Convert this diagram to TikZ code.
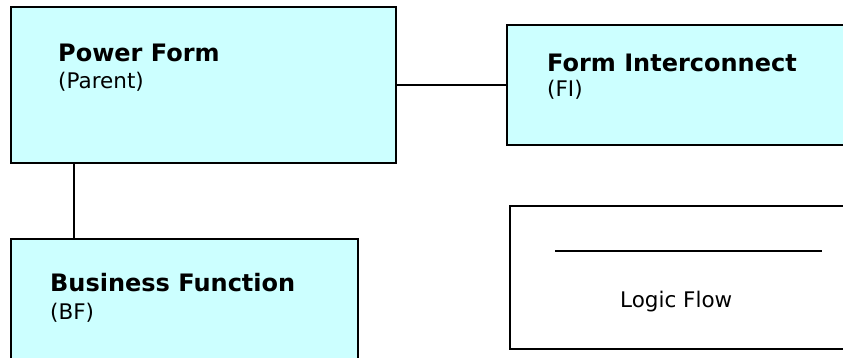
\documentclass[tikz,border=0pt]{standalone}
\usepackage{fontspec}
\setmainfont{DejaVu Sans}
\usepackage{tikz}
\usetikzlibrary{positioning}

\definecolor{formcyan}{HTML}{CCFFFF}

\tikzset{
	formbox/.style={rectangle, draw, fill=formcyan, line width=2.4pt, inner sep=0pt, outer sep=0pt, anchor=north west},
	legendbox/.style={formbox, fill=white},
	title/.style={anchor=base west, inner sep=0pt, font=\fontsize{24}{28}\selectfont\bfseries},
	subtitle/.style={anchor=base west, inner sep=0pt, font=\fontsize{21.5}{25}\selectfont},
	link/.style={line width=2.4pt}
}

\begin{document}
\begin{tikzpicture}[x=1pt, y=-1pt]
				\useasboundingbox (0,0) rectangle (843,358);
				\clip (0,0) rectangle (843,358);
				
				% the three forms
				\node[formbox, minimum width=385pt, minimum height=156pt] (pf) at (11,7) {};
				\node[formbox, minimum width=400pt, minimum height=120pt] (fi) at (507,25) {};
				\node[formbox, minimum width=347pt, minimum height=200pt] (bf) at (11,239) {};
				
				\node[title] (pfname) at (58,62) {Power Form};
				\node[subtitle] (pftag) at (58,89) {(Parent)};
				\node[title] (finame) at (547,72) {Form Interconnect};
				\node[subtitle] (fitag) at (547,97) {(FI)};
				\node[title] (bfname) at (50,291) {Business Function};
				\node[subtitle] (bftag) at (50,319) {(BF)};
				
				\draw[link] (pf.east) -- (fi.west);
				\draw[link] ([xshift=63pt]pf.south west) -- ([xshift=63pt]bf.north west);
				
				% legend
				\node[legendbox, minimum width=400pt, minimum height=143pt] (lf) at (510,206) {};
				\coordinate (lfa) at (555,251);
				\coordinate (lfb) at (822,251);
				\draw[link] (lfa) -- (lfb);
				\node[subtitle] (lftext) at (620,307) {Logic Flow};
			\end{tikzpicture}
\end{document}
